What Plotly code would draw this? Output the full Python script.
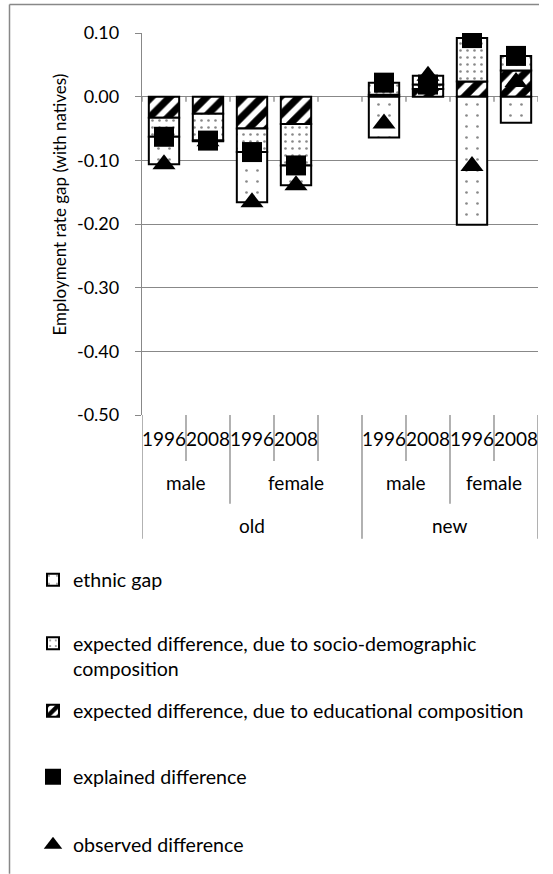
import plotly.graph_objects as go

# ---- data -------------------------------------------------------------
cohorts = ["old", "old", "old", "old", "old", "new", "new", "new", "new"]
genders = ["male", "male", "female", "female", "female", "male", "male", "female", "female"]
years = ["1996", "2008", "1996", "2008", "", "1996", "2008", "1996", "2008"]

educational = [-0.033, -0.027, -0.050, -0.043, None, 0.003, 0.012, 0.024, 0.041]
socio_demographic = [-0.030, -0.042, -0.037, -0.065, None, 0.019, 0.007, 0.068, 0.023]
ethnic_gap = [-0.043, -0.001, -0.079, -0.031, None, -0.064, 0.014, -0.201, -0.041]
explained = [-0.063, -0.069, -0.087, -0.108, None, 0.022, 0.019, 0.092, 0.064]
observed = [-0.106, -0.070, -0.166, -0.139, None, -0.042, 0.033, -0.109, 0.023]

y_ticks = [0.10, 0.00, -0.10, -0.20, -0.30, -0.40, -0.50]
y_tick_labels = ["0.10", "0.00", "-0.10", "-0.20", "-0.30", "-0.40", "-0.50"]

names = {
    "ethnic": "ethnic gap",
    "socio": "expected difference, due to socio-demographic<br>composition",
    "edu": "expected difference, due to educational composition",
    "explained": "explained difference",
    "observed": "observed difference",
}

# ---- page geometry ------------------------------------------------------
W, H = 553, 874
L, R, T, B = 142, 15, 33, 458
PW, PH = W - L - R, H - T - B
FONT = "Lato"
GRAY = "#888888"
FS = 18
FS_CAT = 19
FS_LEG = 19.6


def px_x(px):
    return (px - L) / PW


def px_y(py):
    return (H - B - py) / PH


x = list(range(len(years)))

fig = go.Figure()

outline = dict(color="black", width=2)

fig.add_trace(go.Bar(
    x=x, y=educational, name=names["edu"], legend="legend3",
    marker=dict(color="white", line=outline,
                pattern=dict(shape="/", fgcolor="black", bgcolor="white",
                             size=13, solidity=0.55, fgopacity=1)),
    width=0.69,
))
fig.add_trace(go.Bar(
    x=x, y=socio_demographic, name=names["socio"], legend="legend2",
    marker=dict(color="white", line=outline,
                pattern=dict(shape=".", fgcolor="#111111", bgcolor="white",
                             size=7, solidity=0.11)),
    width=0.69,
))
fig.add_trace(go.Bar(
    x=x, y=ethnic_gap, name=names["ethnic"], legend="legend",
    marker=dict(color="white", line=outline,
                pattern=dict(shape=".", fgcolor="#111111", bgcolor="white",
                             size=11, solidity=0.045)),
    width=0.69,
))
fig.add_trace(go.Scatter(
    x=x, y=explained, name=names["explained"], legend="legend4",
    mode="markers", marker=dict(symbol="square", size=20, color="black"),
))
fig.add_trace(go.Scatter(
    x=x, y=observed, name=names["observed"], legend="legend5",
    mode="markers", marker=dict(symbol="triangle-up", size=20, color="black"),
))

# ---- category axis: labels and separators ------------------------------
n = len(years)
shapes = []
annotations = []

Y_AXIS = H - B            # pixel row of the category axis (bottom of plot)
DEPTH = {"year": 462, "gender": 505, "cohort": 540}

for k in range(n + 1):
    xb = k - 0.5
    if k == 0 or k == n or cohorts[k - 1] != cohorts[k]:
        bottom = DEPTH["cohort"]
    elif genders[k - 1] != genders[k]:
        bottom = DEPTH["gender"]
    else:
        bottom = DEPTH["year"]
    shapes.append(dict(type="line", xref="x", yref="paper", x0=xb, x1=xb,
                       y0=px_y(Y_AXIS), y1=px_y(bottom),
                       line=dict(color=GRAY, width=1.3)))
    # small tick marks on the zero line
    shapes.append(dict(type="line", xref="x", yref="y", x0=xb, x1=xb,
                       y0=0, y1=-5 / (PH / 0.6),
                       line=dict(color=GRAY, width=1.3)))

for i, yr in enumerate(years):
    if yr:
        annotations.append(dict(x=i, y=px_y(440), xref="x", yref="paper",
                                text=yr, showarrow=False, font=dict(size=FS_CAT),
                                xanchor="center", yanchor="middle"))


def runs(keys):
    out = []
    start = 0
    for i in range(1, len(keys) + 1):
        if i == len(keys) or keys[i] != keys[start]:
            out.append((keys[start], start, i - 1))
            start = i
    return out


for (coh, gen), a, b in runs(list(zip(cohorts, genders))):
    annotations.append(dict(x=(a + b) / 2, y=px_y(484), xref="x", yref="paper",
                            text=gen, showarrow=False, font=dict(size=FS_CAT),
                            xanchor="center", yanchor="middle"))
for coh, a, b in runs(cohorts):
    annotations.append(dict(x=(a + b) / 2, y=px_y(527), xref="x", yref="paper",
                            text=coh, showarrow=False, font=dict(size=FS_CAT),
                            xanchor="center", yanchor="middle"))

# y-axis title
annotations.append(dict(x=px_x(60), y=px_y(205), xref="paper", yref="paper",
                        text="Employment rate gap (with natives)", textangle=-90,
                        showarrow=False, xanchor="center", yanchor="middle",
                        font=dict(size=17)))

# chart-area border (left and top edges)
shapes.append(dict(type="line", xref="paper", yref="paper",
                   x0=px_x(9.5), x1=px_x(9.5), y0=px_y(4.5), y1=px_y(H + 2),
                   line=dict(color=GRAY, width=1.5)))
shapes.append(dict(type="line", xref="paper", yref="paper",
                   x0=px_x(9.5), x1=px_x(539), y0=px_y(4.5), y1=px_y(4.5),
                   line=dict(color=GRAY, width=1.5)))

# ---- legends, one per entry ----------------------------------------------
LEG_X = px_x(33)


def legend_at(py):
    return dict(x=LEG_X, y=px_y(py), xanchor="left", yanchor="middle",
                bgcolor="rgba(0,0,0,0)",
                font=dict(family=FONT, size=FS_LEG, color="black"),
                valign="top", itemwidth=30, tracegroupgap=0)


fig.update_layout(
    width=W, height=H,
    margin=dict(l=L, r=R, t=T, b=B, pad=0),
    paper_bgcolor="white", plot_bgcolor="white",
    font=dict(family=FONT, size=FS, color="black"),
    barmode="relative",
    showlegend=True,
    legend=legend_at(580),
    legend2=legend_at(656),
    legend3=legend_at(711),
    legend4=legend_at(777),
    legend5=legend_at(845),
    xaxis=dict(range=[-0.5, n - 0.5], showticklabels=False, showgrid=False,
               zeroline=False, showline=False, ticks=""),
    yaxis=dict(range=[-0.5, 0.1], tickvals=y_ticks, ticktext=y_tick_labels,
               showgrid=True, gridcolor=GRAY, gridwidth=1.3,
               zeroline=False, showline=True, linecolor=GRAY, linewidth=1.3,
               ticks="outside", ticklen=6, tickcolor=GRAY, tickwidth=1.3,
               ticklabelstandoff=12),
    shapes=shapes,
    annotations=annotations,
)

fig.write_html("out.html")
